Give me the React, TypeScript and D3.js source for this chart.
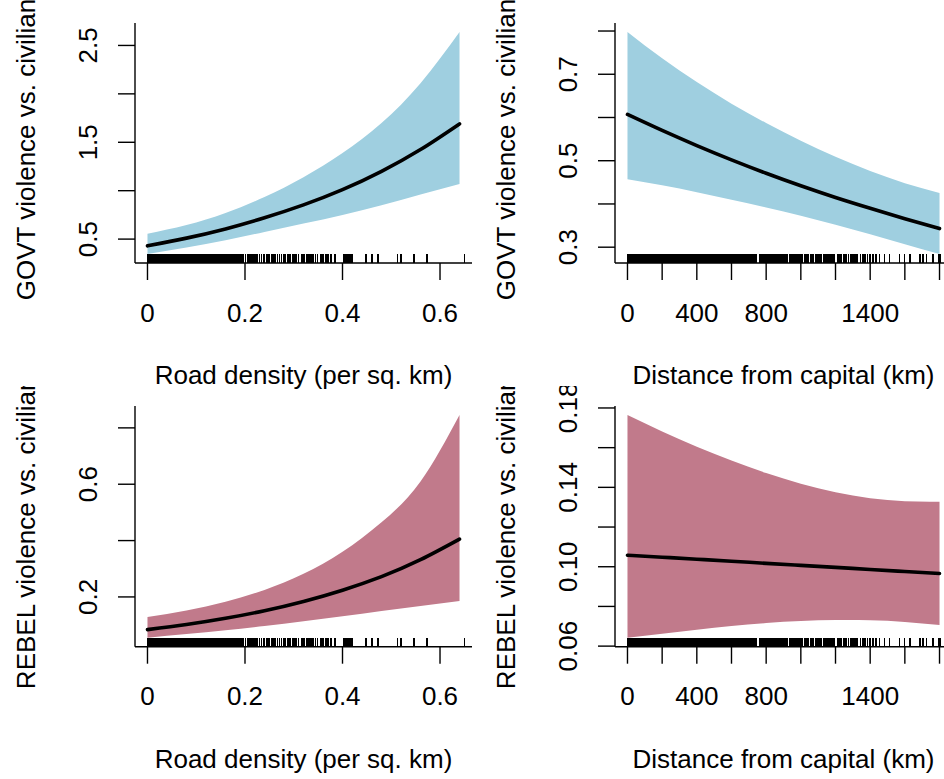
import React from "react";
import * as d3 from "d3";

// x grids the effect curves were read at
const roadX = [0, 0.08, 0.16, 0.24, 0.32, 0.4, 0.48, 0.56, 0.64];
const distX = [0, 200, 400, 600, 800, 1000, 1200, 1400, 1600, 1800];

// GOVT violence vs. civilians ~ road density
const govtRoadFit = [0.43, 0.51, 0.605, 0.72, 0.853, 1.01, 1.2, 1.425, 1.69];
const govtRoadLo = [0.345, 0.412, 0.488, 0.573, 0.66, 0.75, 0.85, 0.96, 1.07];
const govtRoadHi = [0.555, 0.645, 0.77, 0.935, 1.14, 1.39, 1.7, 2.11, 2.64];

// GOVT violence vs. civilians ~ distance from capital
const govtDistFit = [0.607, 0.57, 0.535, 0.502, 0.471, 0.442, 0.415, 0.39, 0.366, 0.343];
const govtDistLo = [0.457, 0.443, 0.427, 0.41, 0.392, 0.373, 0.352, 0.33, 0.307, 0.284];
const govtDistHi = [0.798, 0.737, 0.682, 0.632, 0.587, 0.546, 0.509, 0.476, 0.448, 0.4255];

// REBEL violence vs. civilians ~ road density
const rebelRoadFit = [0.084, 0.102, 0.124, 0.151, 0.184, 0.224, 0.272, 0.332, 0.405];
const rebelRoadLo = [0.055, 0.068, 0.082, 0.097, 0.114, 0.131, 0.15, 0.168, 0.186];
const rebelRoadHi = [0.129, 0.152, 0.183, 0.225, 0.282, 0.36, 0.465, 0.61, 0.846];

// REBEL violence vs. civilians ~ distance from capital
const rebelDistFit = [0.1058, 0.1048, 0.1038, 0.1028, 0.1017, 0.1007, 0.0997, 0.0986, 0.0976, 0.0966];
const rebelDistLo = [0.0642, 0.0662, 0.0683, 0.0701, 0.0716, 0.0726, 0.0731, 0.073, 0.0722, 0.0706];
const rebelDistHi = [0.1765, 0.1682, 0.1605, 0.1535, 0.1472, 0.1418, 0.1375, 0.1345, 0.133, 0.1328];

// observed covariate values (rug)
const roadRug = [
  0, 0.002, 0.005, 0.007, 0.01, 0.012, 0.015, 0.017, 0.02, 0.022, 0.025, 0.027, 0.03, 0.032, 0.035, 0.037,
  0.04, 0.042, 0.045, 0.047, 0.05, 0.052, 0.055, 0.057, 0.06, 0.062, 0.065, 0.067, 0.07, 0.072, 0.075, 0.077,
  0.08, 0.082, 0.085, 0.087, 0.09, 0.092, 0.095, 0.097, 0.1, 0.102, 0.105, 0.107, 0.11, 0.112, 0.115, 0.117,
  0.12, 0.122, 0.125, 0.127, 0.13, 0.132, 0.135, 0.137, 0.14, 0.142, 0.145, 0.147, 0.15, 0.152, 0.155, 0.157,
  0.16, 0.162, 0.165, 0.167, 0.17, 0.172, 0.175, 0.177, 0.18, 0.182, 0.185, 0.187, 0.19, 0.192, 0.195, 0.197,
  0.201, 0.206, 0.21, 0.212, 0.216, 0.22, 0.222, 0.226, 0.23, 0.234, 0.238, 0.24, 0.245, 0.249, 0.255, 0.257,
  0.261, 0.267, 0.271, 0.275, 0.28, 0.282, 0.288, 0.292, 0.298, 0.302, 0.306, 0.31, 0.317, 0.321, 0.327, 0.331,
  0.335, 0.339, 0.345, 0.349, 0.356, 0.36, 0.366, 0.37, 0.376, 0.384, 0.403, 0.407, 0.411, 0.415, 0.419,
  0.448, 0.46, 0.473, 0.513, 0.52, 0.547, 0.573, 0.65,
];
const distRug = [
  0, 7, 15, 22, 30, 38, 45, 53, 60, 68, 76, 83, 91, 98, 106, 114, 121, 129, 136, 144, 152, 159, 167, 174,
  182, 190, 197, 205, 212, 220, 228, 235, 243, 250, 258, 266, 273, 281, 288, 296, 304, 311, 319, 326, 334,
  342, 349, 357, 364, 372, 380, 387, 395, 402, 410, 418, 425, 433, 440, 448, 456, 463, 471, 478, 486, 494,
  501, 509, 516, 524, 532, 539, 547, 554, 562, 570, 577, 585, 592, 600, 608, 615, 623, 630, 638, 646, 653,
  661, 668, 676, 684, 691, 699, 706, 714, 722, 729, 737, 744,
  763, 770, 778, 786, 793, 801, 808, 816, 824, 831, 839, 846, 854, 862, 869, 877, 884, 892, 900,
  908, 916, 924, 934, 942, 951, 958, 966, 975, 984, 990, 999, 1008, 1020, 1027, 1035, 1044, 1056, 1064,
  1072, 1085, 1093, 1100, 1112, 1120, 1131, 1140, 1150, 1163, 1170, 1180, 1192,
  1211, 1220, 1232, 1245, 1253, 1262, 1275, 1290, 1300, 1312, 1325, 1345, 1358, 1370, 1384, 1400, 1416, 1432,
  1453, 1483, 1512, 1570, 1599, 1628, 1686, 1705, 1725, 1764, 1793, 1802,
];

// axis ticks (empty label = tick drawn, label dropped as in the original)
const roadTicks = [0, 0.2, 0.4, 0.6];
const roadTickLabels = ["0", "0.2", "0.4", "0.6"];
const distTicks = [0, 200, 400, 600, 800, 1000, 1200, 1400, 1600, 1800];
const distTickLabels = ["0", "", "400", "", "800", "", "", "1400", "", ""];
const govtRoadYTicks = [0.5, 1, 1.5, 2, 2.5];
const govtRoadYLabels = ["0.5", "", "1.5", "", "2.5"];
const govtDistYTicks = [0.3, 0.4, 0.5, 0.6, 0.7, 0.8];
const govtDistYLabels = ["0.3", "", "0.5", "", "0.7", ""];
const rebelRoadYTicks = [0.2, 0.4, 0.6, 0.8];
const rebelRoadYLabels = ["0.2", "", "0.6", ""];
const rebelDistYTicks = [0.06, 0.08, 0.1, 0.12, 0.14, 0.16, 0.18];
const rebelDistYLabels = ["0.06", "", "0.10", "", "0.14", "", "0.18"];

const BLUE = "#9fcfe0";
const PINK = "#c17a8b";
const FONT = "'Liberation Sans', Arial, Helvetica, sans-serif";
const FS = 26;

// R style 4% axis extension
const pad4 = (e: number[]) => {
  const r = e[1] - e[0];
  return [e[0] - 0.04 * r, e[1] + 0.04 * r];
};

type Box = { left: number; right: number; top: number; bottom: number };

function Panel(props: {
  id: string;
  box: Box;
  clip: Box;
  xs: number[];
  fit: number[];
  lo: number[];
  hi: number[];
  rug: number[];
  xTicks: number[];
  xTickLabels: string[];
  yTicks: number[];
  yTickLabels: string[];
  xTitle: string;
  yTitle: string;
  fill: string;
}) {
  const { id, box, clip, xs, fit, lo, hi, rug, fill } = props;
  const x = d3.scaleLinear().domain(pad4(d3.extent(xs) as number[])).range([box.left, box.right]);
  const y = d3
    .scaleLinear()
    .domain(pad4([d3.min(lo) as number, d3.max(hi) as number]))
    .range([box.bottom, box.top]);

  const band = d3
    .area<number>()
    .x((_, i) => x(xs[i]))
    .y0((_, i) => y(lo[i]))
    .y1((_, i) => y(hi[i]))
    .curve(d3.curveNatural);
  const line = d3
    .line<number>()
    .x((_, i) => x(xs[i]))
    .y((d) => y(d))
    .curve(d3.curveNatural);

  const cx = (box.left + box.right) / 2;
  const cy = (box.top + box.bottom) / 2;
  const tick = 17;

  return (
    <g clipPath={`url(#${id})`} fontFamily={FONT} fontSize={FS} fill="black">
      <defs>
        <clipPath id={id}>
          <rect x={clip.left} y={clip.top} width={clip.right - clip.left} height={clip.bottom - clip.top} />
        </clipPath>
      </defs>
      <path d={band(fit) || ""} fill={fill} stroke="none" />
      <path d={line(fit) || ""} fill="none" stroke="black" strokeWidth={3.6} strokeLinecap="round" />
      <g shapeRendering="crispEdges">
        {rug.map((r, i) => (
          <line key={"r" + i} x1={x(r)} x2={x(r)} y1={box.bottom} y2={box.bottom - 9} stroke="black" strokeWidth={1.6} />
        ))}
      </g>
      {/* L-shaped box */}
      <line x1={box.left} x2={box.left} y1={box.top} y2={box.bottom} stroke="black" strokeWidth={1.4} />
      <line x1={box.left} x2={box.right} y1={box.bottom} y2={box.bottom} stroke="black" strokeWidth={1.4} />
      {props.xTicks.map((t, i) => (
        <g key={"x" + i}>
          <line x1={x(t)} x2={x(t)} y1={box.bottom} y2={box.bottom + tick} stroke="black" strokeWidth={1.4} />
          {props.xTickLabels[i] && (
            <text x={x(t)} y={box.bottom + 58.5} textAnchor="middle">
              {props.xTickLabels[i]}
            </text>
          )}
        </g>
      ))}
      {props.yTicks.map((t, i) => (
        <g key={"y" + i}>
          <line x1={box.left - tick} x2={box.left} y1={y(t)} y2={y(t)} stroke="black" strokeWidth={1.4} />
          {props.yTickLabels[i] && (
            <text transform={`translate(${box.left - 38},${y(t)}) rotate(-90)`} textAnchor="middle">
              {props.yTickLabels[i]}
            </text>
          )}
        </g>
      ))}
      <text x={cx} y={box.bottom + 121} textAnchor="middle">
        {props.xTitle}
      </text>
      <text transform={`translate(${box.left - 100},${cy}) rotate(-90)`} textAnchor="middle">
        {props.yTitle}
      </text>
    </g>
  );
}

export default function App() {
  const topRow = { top: 23, bottom: 263 };
  const botRow = { top: 406, bottom: 646.7 };
  const leftCol = { left: 135, right: 472 };
  const rightCol = { left: 615, right: 952 };
  return (
    <svg
      width={944}
      height={779}
      style={{ position: "absolute", left: 0, top: 0, background: "white", display: "block" }}
    >
      <rect width={944} height={779} fill="white" />
      <Panel
        id="c1"
        box={{ ...leftCol, ...topRow }}
        clip={{ left: 0, right: 480, top: 0, bottom: 395 }}
        xs={roadX}
        fit={govtRoadFit}
        lo={govtRoadLo}
        hi={govtRoadHi}
        rug={roadRug}
        xTicks={roadTicks}
        xTickLabels={roadTickLabels}
        yTicks={govtRoadYTicks}
        yTickLabels={govtRoadYLabels}
        xTitle="Road density (per sq. km)"
        yTitle="GOVT violence vs. civilians"
        fill={BLUE}
      />
      <Panel
        id="c2"
        box={{ ...rightCol, ...topRow }}
        clip={{ left: 480, right: 944, top: 0, bottom: 395 }}
        xs={distX}
        fit={govtDistFit}
        lo={govtDistLo}
        hi={govtDistHi}
        rug={distRug}
        xTicks={distTicks}
        xTickLabels={distTickLabels}
        yTicks={govtDistYTicks}
        yTickLabels={govtDistYLabels}
        xTitle="Distance from capital (km)"
        yTitle="GOVT violence vs. civilians"
        fill={BLUE}
      />
      <Panel
        id="c3"
        box={{ ...leftCol, ...botRow }}
        clip={{ left: 0, right: 480, top: 386, bottom: 779 }}
        xs={roadX}
        fit={rebelRoadFit}
        lo={rebelRoadLo}
        hi={rebelRoadHi}
        rug={roadRug}
        xTicks={roadTicks}
        xTickLabels={roadTickLabels}
        yTicks={rebelRoadYTicks}
        yTickLabels={rebelRoadYLabels}
        xTitle="Road density (per sq. km)"
        yTitle="REBEL violence vs. civilians"
        fill={PINK}
      />
      <Panel
        id="c4"
        box={{ ...rightCol, ...botRow }}
        clip={{ left: 480, right: 944, top: 386, bottom: 779 }}
        xs={distX}
        fit={rebelDistFit}
        lo={rebelDistLo}
        hi={rebelDistHi}
        rug={distRug}
        xTicks={distTicks}
        xTickLabels={distTickLabels}
        yTicks={rebelDistYTicks}
        yTickLabels={rebelDistYLabels}
        xTitle="Distance from capital (km)"
        yTitle="REBEL violence vs. civilians"
        fill={PINK}
      />
    </svg>
  );
}
